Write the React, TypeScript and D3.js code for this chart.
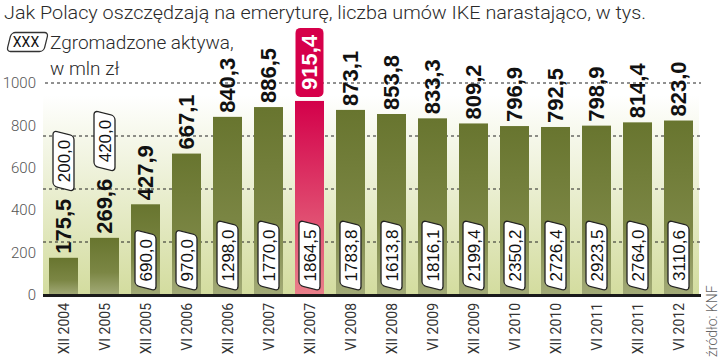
import React from "react";
import * as d3 from "d3";

const categories = ["XII 2004", "VI 2005", "XII 2005", "VI 2006", "XII 2006", "VI 2007", "XII 2007", "VI 2008", "XII 2008", "VI 2009", "XII 2009", "VI 2010", "XII 2010", "VI 2011", "XII 2011", "VI 2012"];
const assets = [175.5, 269.6, 427.9, 667.1, 840.3, 886.5, 915.4, 873.1, 853.8, 833.3, 809.2, 796.9, 792.5, 798.9, 814.4, 823.0];
const contracts = [200.0, 420.0, 690.0, 970.0, 1298.0, 1770.0, 1864.5, 1783.8, 1613.8, 1816.1, 2199.4, 2350.2, 2726.4, 2923.5, 2764.0, 3110.6];
const yTicks = [0, 200, 400, 600, 800, 1000];
const gridValues = [250, 500, 750, 1000];
const highlightIndex = 6;
const boxesAbove = [0, 1];

const W = 720;
const H = 361;
const X0 = 43;
const X1 = 699;
const Y0 = 295;
const Y1 = 83;

const fmt = (v: number) => v.toFixed(1).replace(".", ",");

const textLen = (s: string, size: number, digit = 0.556, comma = 0.278) =>
  s.split("").reduce((a, c) => a + (c === "," ? comma : digit) * size, 0);

const LABEL_SIZE = 22;
const BOX_SIZE = 17;

function SkewBox({ x, len, h, fill, stroke }: { x: number; len: number; h: number; fill: string; stroke: string }) {
  return (
    <g transform="skewX(-14)">
      <rect x={x} y={-h / 2} width={len} height={h} rx={4} ry={4} fill={fill} stroke={stroke} strokeWidth={1.3} />
    </g>
  );
}

export default function App() {
  const x = d3.scaleBand<string>().domain(categories).range([X0, X1]).paddingInner(12 / 41).paddingOuter(6 / 41);
  const y = d3.scaleLinear().domain([0, 1000]).range([Y0, Y1]);
  const bw = x.bandwidth();

  return (
    <svg width={W} height={H} style={{ position: "absolute", left: 0, top: 0, background: "#fff" }}>
      <defs>
        <linearGradient id="bg" x1="0" y1="0" x2="0" y2="1">
          <stop offset="0" stopColor="#ffffff" />
          <stop offset="1" stopColor="#d3dc9e" />
        </linearGradient>
        <linearGradient id="barG" x1="0" y1="0" x2="0" y2="1">
          <stop offset="0" stopColor="#68752f" />
          <stop offset="0.6" stopColor="#7b8644" />
          <stop offset="1" stopColor="#a3ab78" />
        </linearGradient>
        <linearGradient id="barR" x1="0" y1="0" x2="0" y2="1">
          <stop offset="0" stopColor="#d3004a" />
          <stop offset="1" stopColor="#e9808a" />
        </linearGradient>
      </defs>

      <text x={4} y={19} fontFamily="Roboto" fontWeight={300} fontSize={19} fill="#2a2a2a" textLength={642} lengthAdjust="spacingAndGlyphs">
        Jak Polacy oszczędzają na emeryturę, liczba umów IKE narastająco, w tys.
      </text>

      <g transform="translate(9,42)">
        <SkewBox x={0} len={37} h={19} fill="#fff" stroke="#333" />
        <text x={17} y={5} textAnchor="middle" fontFamily="Roboto" fontSize={14} fill="#111">XXX</text>
      </g>
      <text x={50} y={49} fontFamily="Roboto" fontWeight={300} fontSize={19} fill="#2a2a2a">Zgromadzone aktywa,</text>
      <text x={50} y={75} fontFamily="Roboto" fontWeight={300} fontSize={19} fill="#2a2a2a">w mln zł</text>

      <rect x={X0} y={95} width={X1 - X0} height={Y0 - 95} fill="url(#bg)" />

      {yTicks.map((t) => (
        <text key={t} x={36} y={y(t)} dy="0.35em" textAnchor="end" fontFamily="Roboto" fontWeight={300} fontSize={15} fill="#555">
          {t}
        </text>
      ))}

      {gridValues.map((g) => (
        <line key={g} x1={g === 1000 ? 45 : X0} x2={701} y1={y(g)} y2={y(g)} stroke="#222" strokeWidth={1} strokeDasharray="3,3" />
      ))}

      {assets.map((v, i) => (
        <rect key={i} x={x(categories[i])} y={y(v)} width={bw} height={Y0 - y(v)} fill={i === highlightIndex ? "url(#barR)" : "url(#barG)"} />
      ))}

      <line x1={X0} x2={701} y1={Y0 + 0.5} y2={Y0 + 0.5} stroke="#1a1a1a" strokeWidth={3} />

      {assets.map((v, i) => {
        const cx = (x(categories[i]) as number) + bw / 2;
        const s = fmt(v);
        const len = textLen(s, LABEL_SIZE);
        if (i === highlightIndex) {
          return (
            <g key={i} transform={`translate(${cx},${y(v) - 4}) rotate(-90)`}>
              <rect x={0} y={-14} width={len + 14} height={28} rx={5} ry={5} fill="#d6004a" />
              <text x={7} y={0} dy="0.36em" fontFamily="Liberation Sans" fontWeight={700} fontSize={LABEL_SIZE} fill="#fff">
                {s}
              </text>
            </g>
          );
        }
        return (
          <text key={i} transform={`translate(${cx},${y(v) - 4}) rotate(-90)`} dy="0.36em" fontFamily="Liberation Sans" fontWeight={700} fontSize={LABEL_SIZE} fill="#111">
            {s}
          </text>
        );
      })}

      {contracts.map((c, i) => {
        const cx = (x(categories[i]) as number) + bw / 2;
        const s = fmt(c);
        const tl = textLen(s, BOX_SIZE);
        const blen = tl + 13;
        let start: number;
        let baseY: number;
        if (boxesAbove.includes(i)) {
          baseY = y(assets[i]) - 4;
          start = textLen(fmt(assets[i]), LABEL_SIZE) + 10;
        } else {
          baseY = Y0;
          start = 7;
        }
        return (
          <g key={i} transform={`translate(${cx},${baseY}) rotate(-90)`}>
            <SkewBox x={start} len={blen} h={21} fill="#fff" stroke="#222" />
            <text x={start + blen / 2} y={0} dy="0.36em" textAnchor="middle" fontFamily="Liberation Sans" fontSize={BOX_SIZE} fill="#111">
              {s}
            </text>
          </g>
        );
      })}

      {categories.map((c) => {
        const cx = (x(c) as number) + bw / 2;
        return (
          <text key={c} transform={`translate(${cx},303) rotate(-90)`} dy="0.36em" textAnchor="end" fontFamily="Roboto" fontSize={14} fill="#333">
            {c}
          </text>
        );
      })}

      <text transform="translate(712,357) rotate(-90)" dy="0.36em" fontFamily="Roboto" fontWeight={300} fontSize={14} fill="#666">
        źródło: KNF
      </text>
    </svg>
  );
}
